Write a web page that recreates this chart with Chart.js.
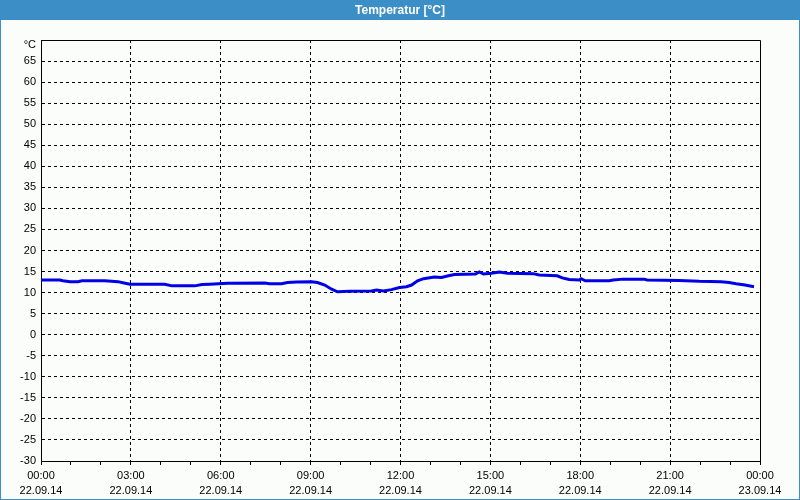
<!DOCTYPE html>
<html>
<head>
<meta charset="utf-8">
<script src="https://cdn.jsdelivr.net/npm/chart.js@4/dist/chart.umd.min.js"></script>
<style>
html,body{margin:0;padding:0;background:#fafdfa;}
canvas{display:block;}
</style>
</head>
<body>
<canvas id="c" width="800" height="500"></canvas>
<script>
// Data: hours since 22.09.14 00:00 and temperature in °C
const hours = [0,0.63,0.73,0.97,1.23,1.37,2.13,2.57,2.77,2.97,4.13,4.37,5.13,5.37,5.63,6.23,7.47,7.63,8.03,8.23,8.53,9.03,9.23,9.47,9.7,9.9,10.3,11.03,11.2,11.43,11.7,11.97,12.2,12.37,12.57,12.77,13.13,13.37,13.6,13.8,14.5,14.63,14.77,15.03,15.3,15.57,16.43,16.63,17.23,17.4,17.63,17.97,18.03,18.17,18.97,19.1,19.43,20.13,20.23,21.3,21.97,22.7,22.97,23.2,23.5,23.8];
const temps = [13.0,13.0,12.8,12.6,12.6,12.8,12.8,12.6,12.3,12.0,12.0,11.6,11.6,11.9,12.0,12.2,12.3,12.1,12.1,12.4,12.5,12.6,12.4,11.8,10.8,10.2,10.3,10.4,10.6,10.4,10.7,11.2,11.4,11.8,12.8,13.3,13.7,13.6,14.0,14.3,14.4,14.9,14.4,14.6,14.9,14.6,14.5,14.2,14.0,13.5,13.1,13.0,13.3,12.8,12.8,13.0,13.2,13.2,13.0,12.9,12.7,12.6,12.4,12.1,11.8,11.4];
const timeLabels = ["00:00","03:00","06:00","09:00","12:00","15:00","18:00","21:00","00:00"];
const dateLabels = ["22.09.14","22.09.14","22.09.14","22.09.14","22.09.14","22.09.14","22.09.14","22.09.14","23.09.14"];
const titleText = "Temperatur [°C]";
const unitLabel = "°C";

const points = hours.map((h, i) => ({x: h, y: temps[i]}));

const frame = {
  id: 'frame',
  beforeDraw(chart) {
    const ctx = chart.ctx;
    ctx.save();
    ctx.fillStyle = '#fafdfa';
    ctx.fillRect(0, 0, 800, 500);
    ctx.fillStyle = '#3c8fc6';
    ctx.fillRect(0, 0, 800, 20);
    ctx.fillRect(0, 0, 1, 500);
    ctx.fillRect(799, 0, 1, 500);
    ctx.fillRect(0, 499, 800, 1);
    ctx.fillStyle = '#ffffff';
    ctx.font = 'bold 12px "Liberation Sans", Arial, sans-serif';
    ctx.textAlign = 'center';
    ctx.textBaseline = 'middle';
    ctx.fillText(titleText, 400, 11);
    ctx.restore();
  },
  afterDraw(chart) {
    const ctx = chart.ctx;
    const a = chart.chartArea;
    ctx.save();
    ctx.strokeStyle = '#000';
    ctx.lineWidth = 1;
    ctx.setLineDash([]);
    ctx.beginPath();
    ctx.moveTo(Math.round(a.left) + 0.5, Math.round(a.top) + 0.5);
    ctx.lineTo(Math.round(a.right) + 0.5, Math.round(a.top) + 0.5);
    ctx.lineTo(Math.round(a.right) + 0.5, Math.round(a.bottom) + 0.5);
    ctx.stroke();
    ctx.fillStyle = '#000';
    ctx.font = '11px "Liberation Sans", Arial, sans-serif';
    ctx.textAlign = 'right';
    ctx.textBaseline = 'middle';
    ctx.fillText(unitLabel, 36, 45);
    ctx.restore();
  }
};

new Chart(document.getElementById('c'), {
  type: 'line',
  data: {
    datasets: [{
      data: points,
      borderColor: '#0000e6',
      borderWidth: 3,
      pointRadius: 0,
      tension: 0,
      fill: false
    }]
  },
  options: {
    responsive: false,
    animation: false,
    devicePixelRatio: 1,
    layout: {padding: {top: 40, right: 40, left: 0, bottom: 0}},
    plugins: {legend: {display: false}, title: {display: false}, tooltip: {enabled: false}},
    scales: {
      x: {
        type: 'linear',
        min: 0, max: 24,
        afterFit(s) { s.height = 39; },
        border: {display: true, color: '#000', width: 1, dash: [3, 3]},
        grid: {
          color: (c) => (c.tick && c.tick.value % 3 === 0 && c.tick.value !== 0 && c.tick.value !== 24) ? '#000' : 'rgba(0,0,0,0)',
          tickColor: '#000',
          tickLength: 4,
          lineWidth: 1
        },
        ticks: {
          stepSize: 1,
          autoSkip: false,
          maxRotation: 0,
          padding: 3,
          color: '#000',
          font: {family: '"Liberation Sans", Arial, sans-serif', size: 11, lineHeight: 15/11},
          callback: (v) => (v % 3 === 0) ? [timeLabels[v / 3], dateLabels[v / 3]] : ''
        }
      },
      y: {
        min: -30, max: 70,
        afterFit(s) { s.width = 41; },
        border: {display: true, color: '#000', width: 1, dash: [3, 3]},
        grid: {
          color: (c) => (c.tick && (c.tick.value === 70 || c.tick.value === -30)) ? 'rgba(0,0,0,0)' : '#000',
          drawTicks: false,
          lineWidth: 1
        },
        ticks: {
          stepSize: 5,
          padding: 5,
          color: '#000',
          font: {family: '"Liberation Sans", Arial, sans-serif', size: 11},
          callback: (v) => v === 70 ? '' : String(v)
        }
      }
    }
  },
  plugins: [frame]
});
</script>
</body>
</html>
